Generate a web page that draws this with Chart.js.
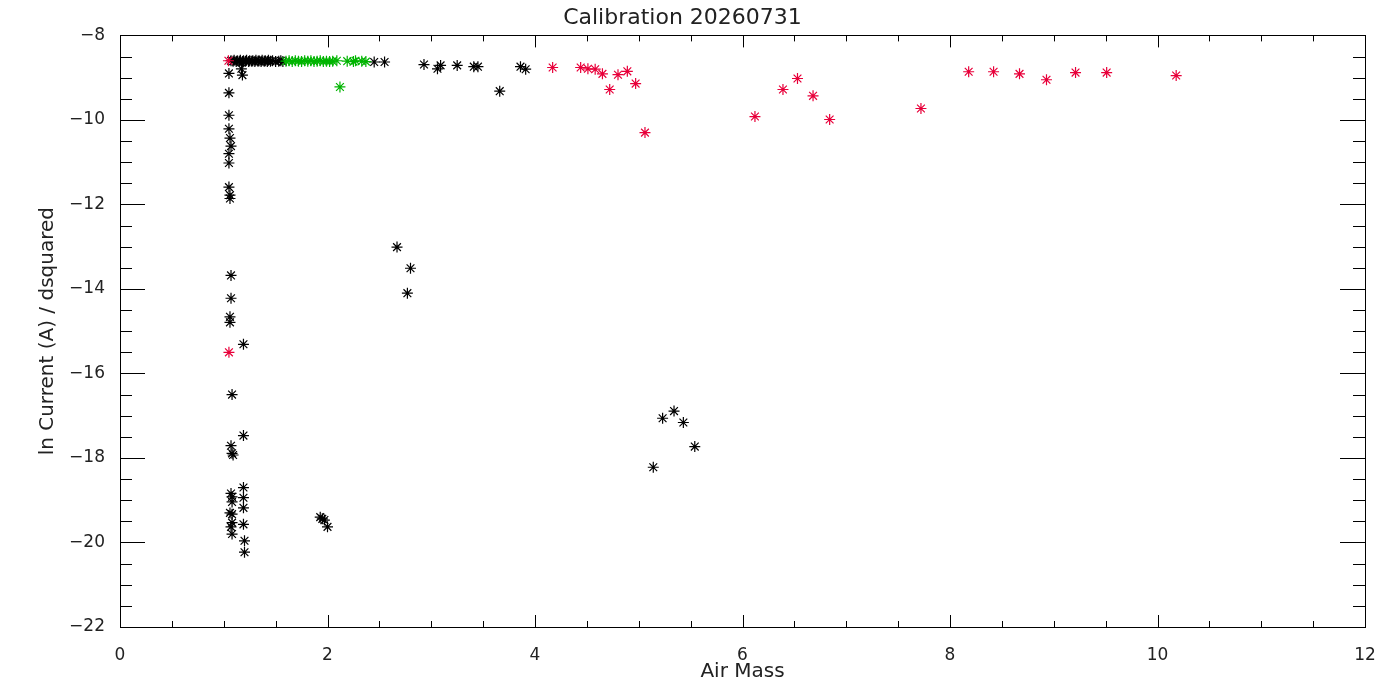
<!DOCTYPE html>
<html>
<head>
<meta charset="utf-8">
<title>Calibration 20260731</title>
<script src="https://cdn.jsdelivr.net/npm/chart.js@4.4.1/dist/chart.umd.min.js"></script>
<style>
  html, body { margin: 0; padding: 0; background: #fff; }
  #wrap { width: 1400px; height: 700px; }
</style>
</head>
<body>
<div id="wrap"><canvas id="calChart" width="1400" height="700"></canvas></div>
<script>
// axis settings
const xMin = 0, xMax = 12, xStep = 2, xMinor = 0.5;
const yMin = -22, yMax = -8, yStep = 2, yMinor = 0.5;

// black points (air mass, ln current)
const blackX = [
  1.07, 1.09, 1.10, 1.12, 1.13, 1.15, 1.16, 1.18, 1.19, 1.21, 1.22, 1.24, 1.25, 1.27, 1.28,
  1.30, 1.31, 1.33, 1.34, 1.36, 1.37, 1.39, 1.40, 1.42, 1.43, 1.45, 1.47, 1.50, 1.53, 1.55, 1.57,
  1.05, 1.17, 1.18,
  1.05, 1.05, 1.05, 1.06, 1.07, 1.05, 1.05, 1.05, 1.06, 1.06,
  1.07, 1.07, 1.06, 1.06, 1.08, 1.07, 1.08, 1.09,
  1.07, 1.08, 1.08, 1.06, 1.08, 1.08, 1.07, 1.08,
  1.19, 1.19, 1.19, 1.19, 1.19, 1.19, 1.20, 1.20,
  1.93, 1.95, 1.97, 2.00,
  2.45, 2.55, 2.93, 3.06, 3.09, 3.25, 3.41, 3.45, 3.66, 3.86, 3.91,
  2.67, 2.80, 2.77,
  5.14, 5.23, 5.34, 5.43, 5.54
];
const blackY = [
  -8.60, -8.61, -8.59, -8.62, -8.60, -8.61, -8.59, -8.62, -8.60, -8.61, -8.59, -8.62, -8.60, -8.61, -8.60,
  -8.62, -8.59, -8.61, -8.60, -8.62, -8.59, -8.61, -8.60, -8.62, -8.59, -8.61, -8.60, -8.62, -8.61, -8.60, -8.62,
  -8.90, -8.79, -8.94,
  -9.36, -9.89, -10.21, -10.43, -10.62, -10.80, -11.02, -11.59, -11.78, -11.86,
  -13.68, -14.22, -14.66, -14.79, -16.50, -17.71, -17.89, -17.93,
  -18.84, -18.92, -19.04, -19.30, -19.33, -19.53, -19.63, -19.80,
  -15.31, -17.47, -18.70, -18.94, -19.18, -19.57, -19.96, -20.23,
  -19.40, -19.44, -19.47, -19.63,
  -8.63, -8.63, -8.69, -8.79, -8.71, -8.71, -8.74, -8.74, -9.32, -8.74, -8.80,
  -13.01, -13.51, -14.10,
  -18.22, -17.06, -16.89, -17.16, -17.73
];

// green points
const greenX = [
  1.60, 1.63, 1.66, 1.69, 1.72, 1.75, 1.78, 1.81, 1.84, 1.87, 1.90, 1.93, 1.96, 1.99,
  2.02, 2.05, 2.09, 2.19, 2.25, 2.27, 2.33, 2.37, 2.12
];
const greenY = [
  -8.61, -8.60, -8.62, -8.60, -8.61, -8.62, -8.60, -8.61, -8.60, -8.62, -8.61, -8.60, -8.62, -8.61,
  -8.62, -8.61, -8.60, -8.61, -8.62, -8.60, -8.61, -8.62, -9.22
];

// red points
const redX = [
  1.045, 1.05, 4.17, 4.44, 4.51, 4.58, 4.65, 4.72, 4.80, 4.89, 4.97, 5.06,
  6.12, 6.39, 6.53, 6.68, 6.84, 7.72, 8.18, 8.42, 8.67, 8.93, 9.21, 9.51, 10.18
];
const redY = [
  -8.60, -15.50, -8.76, -8.76, -8.79, -8.80, -8.91, -9.28, -8.93, -8.85, -9.14, -10.30,
  -9.92, -9.28, -9.02, -9.43, -9.99, -9.73, -8.86, -8.86, -8.91, -9.05, -8.88, -8.88, -8.95
];

const titleText = 'Calibration 20260731';
const xTitle = 'Air Mass';
const yTitle = 'ln Current (A) / dsquared';

function toPoints(xs, ys) {
  return xs.map((x, i) => ({ x: x, y: ys[i] }));
}

function minusLabel(v) {
  return v < 0 ? '\u2212' + Math.abs(v) : String(v);
}

// IDL-style box with inward ticks on all four sides
const frameTicks = {
  id: 'frameTicks',
  beforeDatasetsDraw(chart) {
    const { ctx, chartArea: a, scales } = chart;
    const sx = scales.x, sy = scales.y;
    ctx.save();
    ctx.strokeStyle = '#000';
    ctx.lineWidth = 1;
    ctx.strokeRect(Math.round(a.left) + 0.5, Math.round(a.top) + 0.5,
      Math.round(a.right - a.left), Math.round(a.bottom - a.top));
    ctx.beginPath();
    for (let v = xMin + xMinor; v < xMax - 1e-9; v += xMinor) {
      const px = Math.round(sx.getPixelForValue(v)) + 0.5;
      const len = Math.abs(v % xStep) < 1e-9 ? 12 : 6;
      ctx.moveTo(px, a.bottom); ctx.lineTo(px, a.bottom - len);
      ctx.moveTo(px, a.top); ctx.lineTo(px, a.top + len);
    }
    for (let v = yMin + yMinor; v < yMax - 1e-9; v += yMinor) {
      const py = Math.round(sy.getPixelForValue(v)) + 0.5;
      const len = Math.abs(v % yStep) < 1e-9 ? 25 : 12;
      ctx.moveTo(a.left, py); ctx.lineTo(a.left + len, py);
      ctx.moveTo(a.right, py); ctx.lineTo(a.right - len, py);
    }
    ctx.stroke();
    ctx.restore();
  }
};

const starStyle = {
  showLine: false,
  pointStyle: 'star',
  pointRadius: 5.5,
  pointHoverRadius: 5.5,
  borderWidth: 1.2
};

const ctx = document.getElementById('calChart').getContext('2d');
const chart = new Chart(ctx, {
  type: 'scatter',
  data: {
    datasets: [
      Object.assign({ label: 'red', data: toPoints(redX, redY),
        borderColor: '#e8003a', backgroundColor: '#e8003a' }, starStyle),
      Object.assign({ label: 'green', data: toPoints(greenX, greenY),
        borderColor: '#00b400', backgroundColor: '#00b400' }, starStyle),
      Object.assign({ label: 'black', data: toPoints(blackX, blackY),
        borderColor: '#000', backgroundColor: '#000' }, starStyle)
    ]
  },
  options: {
    responsive: false,
    animation: false,
    layout: { padding: { left: 0, right: 35, top: 0, bottom: 0 } },
    plugins: {
      legend: { display: false },
      tooltip: { enabled: false },
      title: {
        display: true,
        text: titleText,
        color: '#222',
        font: { family: 'DejaVu Sans', size: 22, weight: 'normal' },
        padding: { top: 5, bottom: 4 }
      }
    },
    scales: {
      x: {
        type: 'linear',
        min: xMin,
        max: xMax,
        afterFit(scale) { scale.height = 73; },
        grid: { display: false },
        border: { display: false },
        ticks: {
          stepSize: xStep,
          padding: 10,
          color: '#222',
          font: { family: 'DejaVu Sans', size: 17 },
          callback: minusLabel
        },
        title: {
          display: true,
          text: xTitle,
          color: '#222',
          font: { family: 'DejaVu Sans', size: 20 },
          padding: { top: 0, bottom: 16 }
        }
      },
      y: {
        type: 'linear',
        min: yMin,
        max: yMax,
        afterFit(scale) { scale.width = 120; },
        grid: { display: false },
        border: { display: false },
        ticks: {
          stepSize: yStep,
          padding: 7,
          color: '#222',
          font: { family: 'DejaVu Sans', size: 17 },
          callback: minusLabel
        },
        title: {
          display: true,
          text: yTitle,
          color: '#222',
          font: { family: 'DejaVu Sans', size: 20 },
          padding: { top: 36, bottom: 0 }
        }
      }
    }
  },
  plugins: [frameTicks]
});
</script>
</body>
</html>
